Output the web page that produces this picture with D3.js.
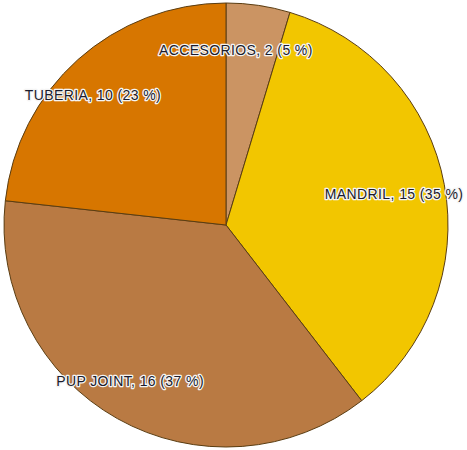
<!DOCTYPE html>
<html>
<head>
<meta charset="utf-8">
<script src="https://cdn.jsdelivr.net/npm/d3@7"></script>
<style>
  html, body { margin: 0; padding: 0; background: #ffffff; }
  svg { display: block; }
  .lbl {
    font-family: "Liberation Sans", Arial, sans-serif;
    font-size: 14px;
    letter-spacing: 0.4px;
    fill: #1c1c2c;
    stroke: #f4f4f4;
    stroke-width: 2.6px;
    stroke-linejoin: round;
    paint-order: stroke;
  }
</style>
</head>
<body>
<svg id="chart" width="467" height="450"></svg>
<script>
// Items by category
const categories = ["ACCESORIOS", "MANDRIL", "PUP JOINT", "TUBERIA"];
const counts = [2, 15, 16, 10];
const sliceColors = ["#CB9463", "#F2C600", "#B97A43", "#D77600"];

// Label placement: [angle nudge (rad), radius fraction] per slice
const labelPlacement = [[-0.09, 0.79], [0, 0.77], [0.04, 0.825], [-0.066, 0.838]];

const svg = d3.select("#chart");
const cx = 226, cy = 225, radius = 222;

const total = d3.sum(counts);
const data = categories.map((c, i) => ({ name: c, value: counts[i], color: sliceColors[i], idx: i }));

const pie = d3.pie().value(d => d.value).sort(null);
const arc = d3.arc().innerRadius(0).outerRadius(radius);

const g = svg.append("g").attr("transform", `translate(${cx},${cy})`);

const arcs = pie(data);

g.selectAll("path.slice")
  .data(arcs)
  .join("path")
  .attr("class", "slice")
  .attr("d", arc)
  .attr("fill", d => d.data.color)
  .attr("stroke", "#5a3d12")
  .attr("stroke-width", 1)
  .attr("stroke-linejoin", "round");

g.selectAll("text.lbl")
  .data(arcs)
  .join("text")
  .attr("class", "lbl")
  .attr("text-anchor", "middle")
  .attr("dominant-baseline", "central")
  .attr("transform", d => {
    const [da, rf] = labelPlacement[d.data.idx];
    const a = (d.startAngle + d.endAngle) / 2 + da;
    const r = radius * rf;
    return `translate(${r * Math.sin(a)},${-r * Math.cos(a)})`;
  })
  .text(d => `${d.data.name}, ${d.data.value} (${Math.round(d.data.value / total * 100)} %)`);
</script>
</body>
</html>
